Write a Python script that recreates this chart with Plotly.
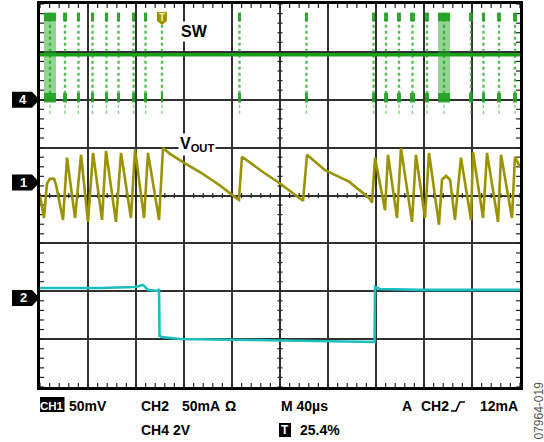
import plotly.graph_objects as go

# ---------------- data ----------------
# time base: 40 us/div, 10 divisions -> 0..400 us
TIME_PER_DIV = 40
N_XDIV, N_YDIV = 10, 8

# CH1  VOUT (AC, mV relative to channel marker), 50 mV/div
vout_t = [0, 3.3, 5.8, 8.3, 11.7, 13.3, 19.2, 22.5, 29.2, 34.2, 40.0, 44.2,
          51.7, 55.0, 63.3, 67.5, 75.8, 79.2, 86.7, 90.0, 99.2, 102.5, 108.3, 120.8,
          133.3, 150.0, 163.3, 165.8, 168.3, 185.8, 200.0, 214.2, 219.2, 222.5, 237.5, 257.5,
          274.2, 276.7, 279.2, 287.5, 290.0, 297.5, 300.8, 310.0, 313.3, 320.8, 324.2, 332.5,
          335.0, 338.3, 341.7, 345.8, 350.8, 359.2, 360.8, 369.2, 372.5, 381.7, 384.2, 393.3,
          395.8, 400]
vout_mv = [-14, -37, -1, 4, 4, -2, -39, 26, -37, 29, -41, 31,
           -39, 33, -41, 31, -37, 35, -37, 31, -39, 36, 30, 20,
           11, -3, -16, -18, 27, 11, -1, -15, -19, 29, 13, 1,
           -16, -21, 26, -29, 29, -37, 36, -41, 29, -37, 31, -44,
           3, 7, 3, -39, 26, -39, 32, -37, 31, -41, 29, -37,
           27, 16]

# CH2  load current (mA relative to channel marker), 50 mA/div
ch2_t = [0, 50, 79.2, 85.8, 90, 98.3, 99.2, 99.6, 101.7, 116.7, 175, 233.3,
         277.5, 278.8, 279.2, 283.3, 316.7, 358.3, 400]
ch2_ma = [10.4, 10.4, 11.5, 13.6, 8.4, 7.3, 9.4, -39.7, -40.7, -42.8, -43.9, -44.9,
          -46.0, -46.0, 11.5, 9.4, 8.4, 8.4, 8.4]

# CH4  SW node (V), 2 V/div : switching bursts (start / end time, us)
sw_start = [3.3, 19.2, 30.8, 42.5, 54.2, 64.2, 76.7, 86.7, 100.8, 165.0, 220.8,
            276.7, 286.7, 297.5, 308.3, 320.8, 331.7, 357.5, 368.3, 380.8, 394.2]
sw_end = [13.3, 22.5, 33.3, 45.0, 56.7, 66.7, 79.2, 89.2, 102.5, 167.5, 223.3,
          279.2, 290.0, 300.8, 312.5, 324.2, 341.7, 360.8, 370.8, 384.2, 397.5]
sw_idle_v = 1.88
sw_high_v = 3.63
sw_low_v = 0.0
sw_ring_v = -0.58

# channel scale (units/div) and marker position (div from bottom)
CH1_SCALE, CH1_POS = 50, 4.27
CH2_SCALE, CH2_POS = 50, 1.86
CH4_SCALE, CH4_POS = 2, 6.0
TRIG_PCT = 25.4

# ---------------- layout geometry ----------------
W, H = 544, 442
PX0, PX1, PY0, PY1 = 40, 520, 4, 387     # plot area in pixels
TMAX = TIME_PER_DIV * N_XDIV

def px(x):
    return x / W

def py(y):
    return 1 - y / H

def t2pix(t):
    return PX0 + (PX1 - PX0) * t / TMAX

def div2pix(d):
    return PY1 - (PY1 - PY0) * d / N_YDIV

GREEN = "rgb(24,160,24)"
OLIVE = "rgb(155,146,0)"
CYAN = "rgb(28,190,192)"
FONT = "Liberation Sans"

fig = go.Figure()

# --- minor ticks of the graticule ---
tx, ty = [], []
xe = 4.0 * TMAX / (PX1 - PX0)            # 4 px in time units
ye = 4.0 * N_YDIV / (PY1 - PY0)          # 4 px in div units
xc = 2.5 * TMAX / (PX1 - PX0)
yc = 2.5 * N_YDIV / (PY1 - PY0)
for i in range(N_XDIV * 5 + 1):
    t = i * TIME_PER_DIV / 5
    tx += [t, t, None, t, t, None, t, t, None]
    ty += [0, ye, None, N_YDIV, N_YDIV - ye, None, N_YDIV / 2 - yc, N_YDIV / 2 + yc, None]
for j in range(N_YDIV * 5 + 1):
    v = j / 5
    tx += [0, xe, None, TMAX, TMAX - xe, None, TMAX / 2 - xc, TMAX / 2 + xc, None]
    ty += [v, v, None, v, v, None, v, v, None]
fig.add_trace(go.Scatter(x=tx, y=ty, mode="lines", line=dict(color="#222", width=1.2),
                         hoverinfo="skip", showlegend=False))

# --- CH4 SW trace ---
def sw_div(v):
    return CH4_POS + v / CH4_SCALE

def polys(pairs, lo, hi):
    xs, ys = [], []
    for a, b in pairs:
        xs += [a, a, b, b, a, None]
        ys += [sw_div(lo), sw_div(hi), sw_div(hi), sw_div(lo), sw_div(lo), None]
    return xs, ys

def vlines(pairs, lo, hi):
    xs, ys = [], []
    for a, b in pairs:
        m = (a + b) / 2
        xs += [m, m, None]
        ys += [sw_div(lo), sw_div(hi), None]
    return xs, ys

def add_poly(x, y, color):
    fig.add_trace(go.Scatter(x=x, y=y, mode="lines", fill="toself", line=dict(width=0),
                             fillcolor=color, hoverinfo="skip", showlegend=False))

def add_dots(x, y, color, width):
    fig.add_trace(go.Scatter(x=x, y=y, mode="lines", line=dict(color=color, width=width, dash="dot"),
                             hoverinfo="skip", showlegend=False))

pairs = list(zip(sw_start, sw_end))
wide = [(a, b) for a, b in pairs if b - a > 5]

# idle level
fig.add_trace(go.Scatter(x=[0, TMAX], y=[sw_div(sw_idle_v)] * 2, mode="lines",
                         line=dict(color=GREEN, width=3.4), hoverinfo="skip", showlegend=False))
add_poly(*polys(wide, sw_low_v, sw_high_v), "rgba(40,170,40,0.5)")
add_dots(*vlines(pairs, sw_low_v, sw_high_v), "rgba(30,165,30,0.75)", 2.4)
add_poly(*polys(pairs, sw_high_v - 0.35, sw_high_v), "rgba(30,160,30,0.9)")
add_poly(*polys(pairs, sw_low_v - 0.12, sw_low_v + 0.28), "rgba(30,160,30,0.9)")
add_dots(*vlines(pairs, sw_ring_v, sw_low_v), "rgba(40,170,40,0.6)", 1.4)

# --- CH1 VOUT ---
fig.add_trace(go.Scatter(x=vout_t, y=[CH1_POS + v / CH1_SCALE for v in vout_mv], mode="lines",
                         line=dict(color=OLIVE, width=2.6), hoverinfo="skip", showlegend=False))
# --- CH2 current ---
fig.add_trace(go.Scatter(x=ch2_t, y=[CH2_POS + v / CH2_SCALE for v in ch2_ma], mode="lines",
                         line=dict(color=CYAN, width=2.6), hoverinfo="skip", showlegend=False))

shapes = []
annots = []

def txt(x, y, s, size=14, anchor="left", color="black", bg=None, **kw):
    d = dict(x=px(x), y=py(y), xref="paper", yref="paper", text=s, showarrow=False,
             xanchor=anchor, yanchor="middle", font=dict(color=color, size=size, family=FONT))
    if bg:
        d["bgcolor"] = bg
    d.update(kw)
    annots.append(d)

# channel markers
for num, pos in (("4", CH4_POS), ("1", CH1_POS), ("2", CH2_POS)):
    yc_ = div2pix(pos)
    path = (f"M {px(12)},{py(yc_-8)} L {px(32)},{py(yc_-8)} L {px(39.5)},{py(yc_)} "
            f"L {px(32)},{py(yc_+8)} L {px(12)},{py(yc_+8)} Z")
    shapes.append(dict(type="path", path=path, xref="paper", yref="paper",
                       fillcolor="black", line=dict(width=0), layer="above"))
    txt(23, yc_, f"<b>{num}</b>", size=13, anchor="center", color="white")

# trigger marker
tp = t2pix(TMAX * TRIG_PCT / 100)
path = (f"M {px(tp-5)},{py(12)} L {px(tp+5)},{py(12)} L {px(tp+5)},{py(21)} "
        f"L {px(tp)},{py(25)} L {px(tp-5)},{py(21)} Z")
shapes.append(dict(type="path", path=path, xref="paper", yref="paper",
                   fillcolor=OLIVE, line=dict(width=0), layer="above"))
txt(tp, 17.5, "<b>T</b>", size=10, anchor="center", color="#f4f0c0")

# trace labels
txt(179, 32, "<b>SW</b>", size=16, bg="white", borderpad=1)
txt(178, 145, "<b>V<sub>OUT</sub></b>", size=16, bg="white", borderpad=1)

# bottom readout
R1, R2 = 406, 430
shapes.append(dict(type="rect", xref="paper", yref="paper", x0=px(40), x1=px(64.5),
                   y0=py(397), y1=py(412), fillcolor="black", line=dict(width=0)))
txt(52.2, R1, "<b>CH1</b>", size=11.5, color="white", anchor="center")
txt(67, R1, "<b>50mV</b>")
txt(139, R1, "<b>CH2</b>")
txt(180, R1, "<b>50mA</b>")
txt(223, R1, "<b>\u03a9</b>")
txt(139, R2, "<b>CH4 2V</b>")
txt(279, R1, "<b>M 40\u00b5s</b>")
shapes.append(dict(type="rect", xref="paper", yref="paper", x0=px(279), x1=px(291),
                   y0=py(423), y1=py(437), fillcolor="black", line=dict(width=0)))
txt(285, R2, "<b>T</b>", size=12, color="white", anchor="center")
txt(298, R2, "<b>25.4%</b>")
txt(400, R1, "<b>A</b>")
txt(419, R1, "<b>CH2</b>")
# rising-edge trigger slope symbol
edge = (f"M {px(451)},{py(411)} L {px(456)},{py(411)} L {px(460)},{py(402)} L {px(465)},{py(402)}")
shapes.append(dict(type="path", path=edge, xref="paper", yref="paper",
                   line=dict(color="black", width=1.6)))
txt(520, R1, "<b>12mA</b>", anchor="right")
annots.append(dict(x=px(538.5), y=py(411), xref="paper", yref="paper", text="07964-019",
                   showarrow=False, textangle=-90, xanchor="center", yanchor="middle",
                   font=dict(color="#555", size=12, family=FONT)))

fig.update_layout(
    width=W, height=H, margin=dict(l=0, r=0, t=0, b=0),
    paper_bgcolor="white", plot_bgcolor="white",
    shapes=shapes, annotations=annots, showlegend=False,
    xaxis=dict(domain=[px(PX0), px(PX1)], range=[0, TMAX], dtick=TIME_PER_DIV, tick0=0,
               showgrid=True, gridcolor="#303030", gridwidth=1.5, zeroline=False,
               showticklabels=False, ticks="", showline=True, mirror=True,
               linecolor="black", linewidth=2.5, fixedrange=True),
    yaxis=dict(domain=[py(PY1), py(PY0)], range=[0, N_YDIV], dtick=1, tick0=0,
               showgrid=True, gridcolor="#303030", gridwidth=1.5, zeroline=False,
               showticklabels=False, ticks="", showline=True, mirror=True,
               linecolor="black", linewidth=2.5, fixedrange=True),
)

fig.write_html("out.html", post_script="document.body.style.margin='0';",
               config={"displayModeBar": False})
